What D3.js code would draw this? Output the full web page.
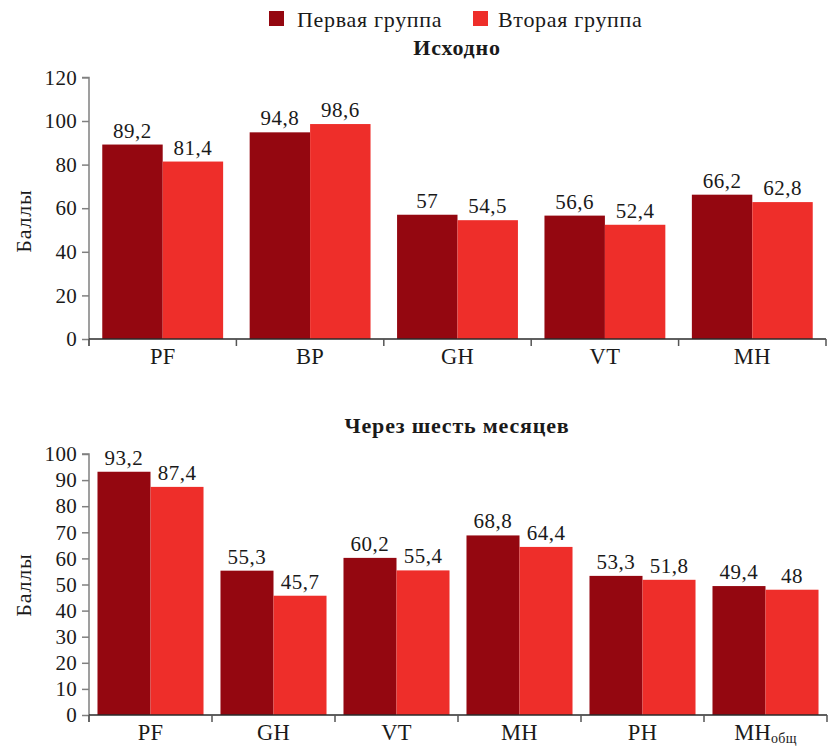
<!DOCTYPE html>
<html>
<head>
<meta charset="utf-8">
<script src="https://cdn.jsdelivr.net/npm/d3@7"></script>
<style>
  html, body { margin: 0; padding: 0; background: #fff; }
  svg { display: block; }
</style>
</head>
<body>
<svg id="chart" width="832" height="746"></svg>
<script>
// Series names and colours
const seriesNames = ["Первая группа", "Вторая группа"];
const seriesColors = ["#940710", "#ee2e2a"];

// Baseline panel
const baseCategories = ["PF", "BP", "GH", "VT", "MH"];
const baseGroup1 = [89.2, 94.8, 57, 56.6, 66.2];
const baseGroup2 = [81.4, 98.6, 54.5, 52.4, 62.8];
const baseTicks = [0, 20, 40, 60, 80, 100, 120];

// Six-month panel
const laterCategories = ["PF", "GH", "VT", "MH", "PH", "MHобщ"];
const laterGroup1 = [93.2, 55.3, 60.2, 68.8, 53.3, 49.4];
const laterGroup2 = [87.4, 45.7, 55.4, 64.4, 51.8, 48];
const laterTicks = [0, 10, 20, 30, 40, 50, 60, 70, 80, 90, 100];

const FONT = "'Liberation Serif', 'Times New Roman', serif";
const INK = "#1a1a1a";
const svg = d3.select("#chart");
const fmt = v => String(v).replace(".", ",");

function styleText(sel, size, spacing) {
  return sel.attr("font-family", FONT).attr("fill", INK)
    .attr("font-size", size).attr("letter-spacing", spacing || 0);
}

// Legend
const legend = svg.append("g");
const legendItems = [{x: 269, tx: 297}, {x: 473, tx: 498}];
seriesNames.forEach((name, i) => {
  legend.append("rect").attr("x", legendItems[i].x).attr("y", 11)
    .attr("width", 15).attr("height", 15).attr("fill", seriesColors[i]);
  styleText(legend.append("text"), 22, 0.7)
    .attr("x", legendItems[i].tx).attr("y", 27).text(name);
});

function panel(opt) {
  const g = svg.append("g");
  const x = d3.scaleBand().domain(opt.categories).range([opt.x0, opt.x1]).padding(0);
  const inner = d3.scaleBand().domain([0, 1])
    .range([x.bandwidth() * opt.groupPad, x.bandwidth() * (1 - opt.groupPad)]).padding(0);
  const y = d3.scaleLinear().domain([0, opt.max]).range([opt.y0, opt.y1]);

  // title
  styleText(g.append("text"), 22, 0.8)
    .attr("x", opt.titleX).attr("y", opt.titleY)
    .attr("text-anchor", "middle").attr("font-weight", "bold")
    .text(opt.title);

  // y axis
  const yAxis = g.append("g").attr("transform", `translate(${opt.x0},0)`)
    .call(d3.axisLeft(y).tickValues(opt.ticks).tickSize(7).tickPadding(5).tickFormat(d3.format("d")));
  yAxis.attr("font-family", FONT);
  yAxis.select(".domain").attr("stroke", "#808080").attr("stroke-width", 1.5)
    .attr("d", `M0,${opt.y0 + 7}V${y(opt.max)}H-7`);
  yAxis.selectAll(".tick line").attr("stroke", "#808080").attr("stroke-width", 1.5);
  yAxis.selectAll(".tick text").attr("font-size", 21).attr("fill", INK).attr("letter-spacing", 0.3);

  // y label
  styleText(g.append("text"), 22, 0.8)
    .attr("transform", `translate(${opt.labelX},${opt.labelY}) rotate(-90)`)
    .attr("text-anchor", "middle").text("Баллы");

  // bars
  const rows = opt.categories.map((c, i) => ({c, vals: [opt.g1[i], opt.g2[i]]}));
  const grp = g.selectAll(".grp").data(rows).join("g")
    .attr("transform", d => `translate(${x(d.c)},0)`);
  grp.selectAll("rect").data(d => d.vals).join("rect")
    .attr("x", (d, i) => inner(i)).attr("width", inner.bandwidth())
    .attr("y", d => y(d)).attr("height", d => y(0) - y(d))
    .attr("fill", (d, i) => seriesColors[i]);
  styleText(grp.selectAll("text").data(d => d.vals).join("text"), 21, 0.5)
    .attr("x", (d, i) => inner(i) + inner.bandwidth() / 2)
    .attr("y", d => y(d) - 7)
    .attr("text-anchor", "middle")
    .text(d => fmt(d));

  // x axis line and boundary ticks
  g.append("line").attr("x1", opt.x0).attr("x2", opt.x1).attr("y1", opt.y0).attr("y2", opt.y0)
    .attr("stroke", "#2a2a2a").attr("stroke-width", 1.5);
  const bounds = opt.categories.map(c => x(c)).concat([opt.x1]);
  g.selectAll(".xt").data(bounds).join("line")
    .attr("x1", d => d).attr("x2", d => d).attr("y1", opt.y0).attr("y2", opt.y0 + 7)
    .attr("stroke", "#555").attr("stroke-width", 1.5);

  // category labels
  const labels = styleText(g.selectAll(".cat").data(opt.categories).join("text"), 22.5, 0.3)
    .attr("x", d => x(d) + x.bandwidth() / 2).attr("y", opt.y0 + 25)
    .attr("text-anchor", "middle");
  labels.each(function(d) {
    const t = d3.select(this);
    if (d.endsWith("общ")) {
      t.append("tspan").text(d.slice(0, -3));
      t.append("tspan").attr("font-size", 14).attr("dy", 3).text("общ");
    } else {
      t.text(d);
    }
  });
}

panel({
  categories: baseCategories, g1: baseGroup1, g2: baseGroup2, ticks: baseTicks, max: 120,
  x0: 89, x1: 826, y0: 339, y1: 77.4, groupPad: 0.09,
  title: "Исходно", titleX: 457, titleY: 55, labelX: 31, labelY: 221
});

panel({
  categories: laterCategories, g1: laterGroup1, g2: laterGroup2, ticks: laterTicks, max: 100,
  x0: 89, x1: 827, y0: 715, y1: 454, groupPad: 0.069,
  title: "Через шесть месяцев", titleX: 457, titleY: 433, labelX: 31, labelY: 585
});
</script>
</body>
</html>
